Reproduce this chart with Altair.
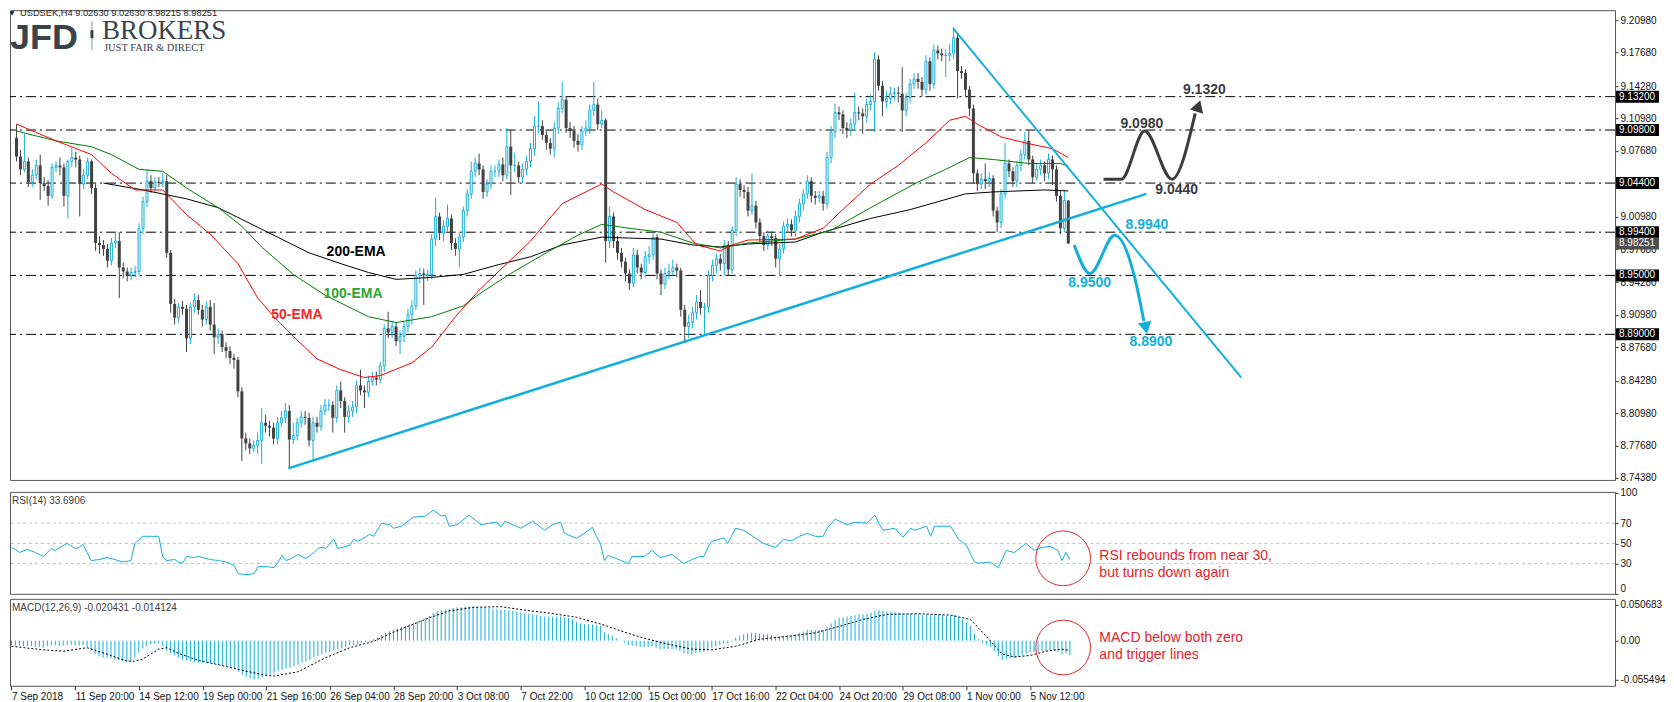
import altair as alt
import pandas as pd

# ---------------------------------------------------------------- data
first_open = 9.090
closes = [
    9.071, 9.058, 9.066, 9.045, 9.052, 9.062, 9.044, 9.041, 9.031, 9.060,
    9.062, 9.060, 9.031, 9.066, 9.070, 9.068, 9.043, 9.052, 9.066, 9.039,
    8.983, 8.981, 8.977, 8.965, 8.983, 8.985, 8.958, 8.954, 8.950, 8.953,
    8.954, 8.998, 9.025, 9.046, 9.039, 9.045, 9.044, 9.046, 8.973, 8.921,
    8.907, 8.918, 8.916, 8.886, 8.918, 8.925, 8.915, 8.905, 8.918, 8.900,
    8.887, 8.890, 8.877, 8.873, 8.866, 8.864, 8.832, 8.784, 8.779, 8.774,
    8.777, 8.782, 8.800, 8.797, 8.795, 8.784, 8.800, 8.805, 8.812, 8.783,
    8.787, 8.800, 8.806, 8.805, 8.782, 8.800, 8.796, 8.812, 8.818, 8.818,
    8.805, 8.833, 8.822, 8.806, 8.812, 8.816, 8.838, 8.833, 8.831, 8.842,
    8.846, 8.844, 8.858, 8.896, 8.892, 8.898, 8.883, 8.888, 8.898, 8.910,
    8.919, 8.950, 8.952, 8.950, 8.951, 8.987, 9.010, 8.993, 9.000, 9.008,
    8.983, 8.977, 8.989, 9.016, 9.033, 9.056, 9.064, 9.058, 9.035, 9.043,
    9.056, 9.056, 9.063, 9.052, 9.081, 9.062, 9.062, 9.050, 9.058, 9.066,
    9.079, 9.102, 9.102, 9.093, 9.085, 9.079, 9.100, 9.120, 9.129, 9.100,
    9.097, 9.087, 9.083, 9.097, 9.100, 9.118, 9.124, 9.104, 9.108, 8.985,
    9.010, 8.985, 8.973, 8.964, 8.952, 8.942, 8.971, 8.958, 8.953, 8.969,
    8.971, 8.989, 8.952, 8.941, 8.952, 8.954, 8.958, 8.955, 8.915, 8.898,
    8.902, 8.912, 8.923, 8.917, 8.918, 8.950, 8.960, 8.967, 8.962, 8.981,
    8.956, 8.996, 9.043, 9.037, 9.035, 9.016, 9.021, 9.004, 8.990, 8.981,
    8.990, 8.988, 8.967, 8.977, 9.000, 9.002, 8.996, 9.010, 9.023, 9.033,
    9.046, 9.031, 9.029, 9.031, 9.023, 9.070, 9.096, 9.116, 9.114, 9.100,
    9.098, 9.104, 9.116, 9.115, 9.112, 9.124, 9.127, 9.170, 9.143, 9.127,
    9.130, 9.135, 9.136, 9.135, 9.118, 9.131, 9.145, 9.150, 9.147, 9.139,
    9.168, 9.145, 9.179, 9.176, 9.174, 9.174, 9.176, 9.192, 9.158, 9.156,
    9.139, 9.120, 9.054, 9.043, 9.048, 9.046, 9.049, 9.016, 9.004, 9.033,
    9.064, 9.056, 9.046, 9.062, 9.073, 9.087, 9.068, 9.050, 9.058, 9.062,
    9.054, 9.068, 9.058, 9.031, 8.998, 9.0263, 8.98251,
]
highs = [
    9.104, 9.078, 9.094, 9.070, 9.058, 9.068, 9.073, 9.050, 9.047, 9.064,
    9.066, 9.070, 9.064, 9.068, 9.080, 9.076, 9.072, 9.058, 9.070, 9.068,
    9.044, 8.990, 8.986, 8.982, 8.988, 8.994, 8.994, 8.963, 8.958, 8.958,
    8.960, 9.003, 9.030, 9.058, 9.052, 9.050, 9.050, 9.054, 9.052, 8.976,
    8.926, 8.922, 8.924, 8.920, 8.922, 8.932, 8.930, 8.920, 8.924, 8.925,
    8.922, 8.896, 8.894, 8.882, 8.878, 8.870, 8.867, 8.836, 8.790, 8.784,
    8.782, 8.790, 8.815, 8.808, 8.802, 8.800, 8.806, 8.812, 8.820, 8.818,
    8.800, 8.805, 8.812, 8.812, 8.810, 8.806, 8.806, 8.818, 8.824, 8.824,
    8.822, 8.838, 8.842, 8.826, 8.818, 8.822, 8.843, 8.854, 8.838, 8.848,
    8.852, 8.852, 8.862, 8.900, 8.913, 8.904, 8.902, 8.894, 8.903, 8.916,
    8.925, 8.955, 8.958, 8.957, 8.956, 8.992, 9.029, 9.014, 9.006, 9.022,
    9.012, 8.988, 8.994, 9.020, 9.038, 9.066, 9.070, 9.074, 9.062, 9.048,
    9.062, 9.062, 9.068, 9.070, 9.100, 9.098, 9.075, 9.066, 9.064, 9.072,
    9.085, 9.112, 9.127, 9.108, 9.098, 9.090, 9.106, 9.126, 9.147, 9.132,
    9.106, 9.102, 9.094, 9.102, 9.108, 9.124, 9.147, 9.130, 9.118, 9.110,
    9.020, 9.014, 8.990, 8.978, 8.968, 8.956, 8.978, 8.976, 8.962, 8.975,
    8.980, 8.994, 8.992, 8.956, 8.958, 8.962, 8.966, 8.962, 8.958, 8.920,
    8.910, 8.918, 8.930, 8.935, 8.922, 8.955, 8.966, 8.972, 8.972, 8.986,
    8.985, 9.000, 9.050, 9.048, 9.042, 9.040, 9.054, 9.026, 9.008, 8.994,
    8.996, 8.995, 8.992, 8.982, 9.005, 9.008, 9.007, 9.016, 9.028, 9.038,
    9.052, 9.050, 9.036, 9.036, 9.036, 9.076, 9.102, 9.125, 9.122, 9.118,
    9.106, 9.110, 9.136, 9.122, 9.120, 9.130, 9.134, 9.177, 9.174, 9.148,
    9.138, 9.142, 9.141, 9.142, 9.162, 9.136, 9.150, 9.156, 9.156, 9.152,
    9.174, 9.172, 9.185, 9.184, 9.181, 9.180, 9.186, 9.203, 9.196, 9.163,
    9.160, 9.143, 9.124, 9.058, 9.054, 9.064, 9.055, 9.052, 9.020, 9.038,
    9.085, 9.068, 9.060, 9.066, 9.078, 9.096, 9.098, 9.072, 9.064, 9.068,
    9.066, 9.074, 9.072, 9.062, 9.036, 9.037, 9.0263,
]
lows = [
    9.066, 9.052, 9.055, 9.040, 9.040, 9.048, 9.027, 9.036, 9.021, 9.028,
    9.055, 9.052, 9.020, 9.008, 9.060, 9.060, 9.010, 9.038, 9.048, 9.033,
    8.975, 8.972, 8.970, 8.958, 8.960, 8.978, 8.927, 8.947, 8.944, 8.945,
    8.948, 8.950, 8.992, 9.020, 9.034, 9.035, 9.040, 9.040, 8.968, 8.912,
    8.900, 8.902, 8.910, 8.872, 8.880, 8.912, 8.910, 8.898, 8.900, 8.894,
    8.870, 8.880, 8.872, 8.866, 8.860, 8.855, 8.826, 8.761, 8.772, 8.768,
    8.770, 8.768, 8.758, 8.790, 8.786, 8.778, 8.778, 8.796, 8.800, 8.754,
    8.778, 8.782, 8.795, 8.798, 8.776, 8.761, 8.790, 8.792, 8.808, 8.812,
    8.790, 8.800, 8.815, 8.790, 8.800, 8.806, 8.810, 8.828, 8.815, 8.826,
    8.838, 8.838, 8.840, 8.852, 8.886, 8.886, 8.878, 8.870, 8.882, 8.892,
    8.900, 8.915, 8.942, 8.920, 8.944, 8.946, 8.980, 8.986, 8.985, 8.995,
    8.976, 8.970, 8.958, 8.984, 9.010, 9.028, 9.050, 9.052, 9.028, 9.030,
    9.038, 9.050, 9.050, 9.046, 9.048, 9.032, 9.055, 9.044, 9.044, 9.052,
    9.060, 9.072, 9.095, 9.088, 9.078, 9.073, 9.070, 9.094, 9.115, 9.095,
    9.090, 9.080, 9.076, 9.078, 9.092, 9.094, 9.112, 9.098, 9.100, 8.963,
    8.978, 8.978, 8.966, 8.958, 8.944, 8.935, 8.938, 8.952, 8.946, 8.948,
    8.962, 8.966, 8.946, 8.930, 8.936, 8.946, 8.950, 8.948, 8.908, 8.881,
    8.886, 8.896, 8.905, 8.910, 8.889, 8.912, 8.944, 8.952, 8.955, 8.950,
    8.950, 8.952, 8.990, 9.030, 9.028, 9.010, 9.012, 8.998, 8.984, 8.975,
    8.976, 8.980, 8.958, 8.950, 8.972, 8.994, 8.990, 8.990, 9.004, 9.016,
    9.028, 9.024, 9.022, 9.024, 9.016, 9.018, 9.064, 9.090, 9.108, 9.094,
    9.090, 9.092, 9.098, 9.108, 9.094, 9.106, 9.118, 9.096, 9.138, 9.112,
    9.120, 9.124, 9.128, 9.126, 9.096, 9.112, 9.126, 9.140, 9.140, 9.132,
    9.134, 9.138, 9.140, 9.170, 9.168, 9.152, 9.168, 9.170, 9.130, 9.150,
    9.132, 9.112, 9.043, 9.036, 9.038, 9.038, 9.040, 9.010, 8.994, 8.998,
    9.028, 9.050, 9.040, 9.040, 9.056, 9.068, 9.062, 9.044, 9.046, 9.052,
    9.046, 9.048, 9.042, 9.025, 8.992, 8.994, 8.98215,
]

ema50_bar = [0, 10, 19, 24, 30, 37, 43, 49, 56, 61, 66, 70, 76, 82, 88, 92, 100, 105, 111, 117,
             124, 130, 138, 146, 148, 151, 159, 167, 172, 178, 181, 185, 197, 204, 210, 216, 223,
             230, 236, 240, 243, 249, 255, 262, 266]
ema50_val = [9.104, 9.087, 9.073, 9.054, 9.037, 9.037, 9.012, 8.992, 8.962, 8.927, 8.904, 8.888,
             8.865, 8.854, 8.846, 8.848, 8.861, 8.877, 8.908, 8.935, 8.962, 8.985, 9.023, 9.039,
             9.043, 9.035, 9.017, 9.004, 8.981, 8.975, 8.981, 8.986, 8.987, 8.998, 9.021, 9.043,
             9.062, 9.085, 9.108, 9.112, 9.104, 9.091, 9.085, 9.079, 9.070]
ema100_bar = [0, 10, 19, 24, 31, 37, 43, 51, 57, 62, 70, 78, 89, 96, 105, 113, 117, 125, 134, 142,
              148, 155, 163, 171, 178, 185, 197, 206, 216, 228, 235, 241, 247, 256, 264, 266]
ema100_val = [9.097, 9.087, 9.081, 9.073, 9.058, 9.056, 9.039, 9.019, 9.000, 8.979, 8.951, 8.930,
              8.908, 8.902, 8.908, 8.919, 8.931, 8.952, 8.973, 8.991, 9.002, 8.998, 8.994, 8.983,
              8.978, 8.983, 8.987, 8.996, 9.019, 9.045, 9.058, 9.070, 9.068, 9.064, 9.064, 9.061]
ema200_bar = [22, 32, 43, 51, 57, 66, 74, 82, 89, 96, 105, 113, 121, 130, 138, 148, 155, 163, 171,
              178, 185, 197, 204, 216, 226, 240, 247, 260, 266]
ema200_val = [9.044, 9.037, 9.028, 9.019, 9.007, 8.989, 8.973, 8.962, 8.953, 8.946, 8.948, 8.951,
              8.960, 8.969, 8.981, 8.989, 8.988, 8.987, 8.981, 8.979, 8.982, 8.984, 8.994, 9.008,
              9.017, 9.033, 9.035, 9.037, 9.036]

rsi_bar = [0, 1, 2, 4, 6, 8, 9, 10, 11, 13, 14, 16, 17, 18, 19, 20, 22, 24, 26, 28, 30, 31, 33, 35,
           37, 38, 39, 41, 42, 43, 44, 46, 47, 50, 52, 54, 56, 57, 59, 61, 62, 64, 66, 67, 68, 69,
           70, 72, 73, 74, 76, 77, 78, 79, 81, 82, 84, 85, 86, 87, 88, 90, 91, 93, 95, 96, 98, 101,
           104, 106, 108, 109, 110, 112, 115, 118, 120, 122, 123, 124, 128, 131, 134, 136, 138, 139,
           142, 144, 146, 147, 148, 149, 150, 152, 155, 156, 159, 161, 163, 166, 168, 169, 171, 173,
           174, 175, 176, 177, 179, 180, 182, 184, 189, 192, 194, 196, 198, 200, 202, 204, 205, 207,
           210, 212, 215, 217, 218, 219, 222, 224, 226, 227, 230, 231, 232, 236, 238, 240, 242, 243,
           246, 248, 250, 252, 255, 257, 259, 261, 263, 264, 265, 266]
rsi_val = [46, 44, 41, 44, 41, 37, 41, 45, 43, 48, 50, 45, 46, 49, 41, 33, 34, 36, 34, 31.5, 33, 50,
           57, 57, 57, 37, 33, 34, 31.5, 30.4, 37, 36, 37, 34, 33, 31.5, 28, 20, 19, 20, 27, 27, 26,
           31.5, 38, 33, 34.4, 39, 37, 35, 41, 45, 46, 45, 54, 45, 47, 48, 54, 52, 54, 59, 57, 70,
           68.5, 65, 67, 76, 77, 83, 77, 78, 67, 68.5, 78, 68.5, 70, 71, 66, 72, 65, 72, 63, 68.5,
           71, 60, 55, 60, 66, 57, 50, 33, 38, 35, 30, 37, 37, 43, 36, 39, 33, 30, 34, 37, 37, 46,
           52, 53, 55.6, 50, 65, 63, 50, 46, 54, 52.6, 57, 60, 57, 57, 65, 74, 68.5, 71, 70, 78, 70,
           63, 65, 56, 65, 63, 67, 57, 67, 67, 54, 48, 31.5, 30.4, 31.5, 26, 43, 41, 50, 43, 46, 47,
           43, 33, 41, 33.69]

macd_hist = [
    -0.006, -0.007, -0.007, -0.008, -0.008, -0.008, -0.009, -0.009, -0.010, -0.008,
    -0.007, -0.007, -0.008, -0.007, -0.006, -0.006, -0.007, -0.007, -0.006, -0.009,
    -0.014, -0.019, -0.022, -0.024, -0.024, -0.025, -0.027, -0.028, -0.029, -0.030,
    -0.030, -0.024, -0.017, -0.011, -0.008, -0.005, -0.004, -0.004, -0.008, -0.014,
    -0.018, -0.021, -0.024, -0.027, -0.028, -0.029, -0.030, -0.031, -0.031, -0.032,
    -0.032, -0.033, -0.034, -0.035, -0.036, -0.037, -0.039, -0.044, -0.048, -0.051,
    -0.053, -0.055, -0.054, -0.052, -0.050, -0.048, -0.046, -0.043, -0.041, -0.040,
    -0.038, -0.036, -0.034, -0.031, -0.029, -0.027, -0.024, -0.022, -0.019, -0.017,
    -0.016, -0.014, -0.012, -0.011, -0.009, -0.007, -0.006, -0.005, -0.003, -0.002,
    -0.001, 0.002, 0.004, 0.008, 0.011, 0.013, 0.015, 0.017, 0.019, 0.021,
    0.023, 0.025, 0.027, 0.029, 0.032, 0.035, 0.039, 0.041, 0.043, 0.044,
    0.045, 0.046, 0.047, 0.047, 0.048, 0.048, 0.048, 0.048, 0.047, 0.047,
    0.046, 0.045, 0.045, 0.044, 0.044, 0.043, 0.042, 0.041, 0.040, 0.039,
    0.038, 0.037, 0.036, 0.035, 0.034, 0.034, 0.034, 0.034, 0.034, 0.033,
    0.032, 0.030, 0.026, 0.024, 0.023, 0.023, 0.023, 0.022, 0.021, 0.012,
    0.009, 0.006, 0.003, 0.000, -0.003, -0.006, -0.007, -0.008, -0.009, -0.009,
    -0.009, -0.008, -0.010, -0.012, -0.012, -0.012, -0.012, -0.012, -0.015, -0.018,
    -0.019, -0.019, -0.018, -0.017, -0.016, -0.013, -0.010, -0.008, -0.006, -0.004,
    -0.004, -0.001, 0.004, 0.007, 0.009, 0.010, 0.011, 0.011, 0.010, 0.009,
    0.009, 0.008, 0.006, 0.006, 0.007, 0.008, 0.008, 0.009, 0.011, 0.013,
    0.015, 0.015, 0.015, 0.015, 0.015, 0.019, 0.024, 0.029, 0.032, 0.033,
    0.034, 0.035, 0.036, 0.037, 0.037, 0.038, 0.039, 0.042, 0.043, 0.042,
    0.041, 0.041, 0.040, 0.040, 0.038, 0.038, 0.038, 0.038, 0.037, 0.036,
    0.037, 0.036, 0.037, 0.037, 0.036, 0.035, 0.035, 0.036, 0.033, 0.030,
    0.026, 0.021, 0.010, 0.002, -0.003, -0.006, -0.009, -0.015, -0.022, -0.027,
    -0.026, -0.025, -0.025, -0.023, -0.021, -0.018, -0.016, -0.016, -0.016, -0.015,
    -0.015, -0.014, -0.014, -0.016, -0.019, -0.018, -0.0204,
]
signal_bar = [0, 8, 13, 19, 24, 29, 31, 33, 37, 39, 42, 47, 52, 58, 64, 66, 72, 79, 85, 91, 96,
              104, 110, 116, 123, 129, 135, 142, 149, 153, 158, 165, 171, 176, 182, 188, 195, 202,
              208, 214, 220, 228, 236, 241, 244, 249, 252, 256, 260, 264, 266]
signal_val = [-0.008, -0.013, -0.015, -0.010, -0.019, -0.029, -0.029, -0.026, -0.012, -0.010,
              -0.018, -0.028, -0.034, -0.042, -0.049, -0.050, -0.044, -0.024, -0.010, -0.001,
              0.012, 0.030, 0.042, 0.047, 0.048, 0.043, 0.039, 0.033, 0.022, 0.014, 0.005, -0.005,
              -0.012, -0.013, -0.008, 0.002, 0.006, 0.011, 0.020, 0.030, 0.037, 0.038, 0.036,
              0.030, 0.012, -0.019, -0.023, -0.021, -0.015, -0.012, -0.0141]

price_ticks = [9.2098, 9.1768, 9.1428, 9.1098, 9.0768, 9.0098, 8.9768, 8.9428, 8.9098,
               8.8768, 8.8428, 8.8098, 8.7768, 8.7438]
level_prices = [9.132, 9.098, 9.044, 8.994, 8.950, 8.890]
level_labels = ["9.13200", "9.09800", "9.04400", "8.99400", "8.95000", "8.89000"]
current_price = 8.98251
current_label = "8.98251"

x_tick_bars = [0, 16, 32, 48, 64, 80, 96, 112, 128, 144, 160, 176, 192, 208, 224, 240, 256]
x_tick_labels = ["7 Sep 2018", "11 Sep 20:00", "14 Sep 12:00", "19 Sep 00:00", "21 Sep 16:00",
                 "26 Sep 04:00", "28 Sep 20:00", "3 Oct 08:00", "7 Oct 22:00", "10 Oct 12:00",
                 "15 Oct 00:00", "17 Oct 16:00", "22 Oct 04:00", "24 Oct 20:00", "29 Oct 08:00",
                 "1 Nov 00:00", "5 Nov 12:00"]
rsi_ticks = [0, 30, 50, 70, 100]
rsi_levels = [30, 50, 70]
macd_ticks = [0.050683, 0.0, -0.055494]
macd_tick_labels = ["0.050683", "0.00", "-0.055494"]

up_trend_bar = [68.75, 285.75]
up_trend_price = [8.7536, 9.033]
down_trend_bar = [236.9, 309.75]
down_trend_price = [9.2014, 8.846]

bull_path_bar = [274.9, 279.4, 285.3, 292.2, 298.1]
bull_path_price = [9.048, 9.048, 9.097, 9.048, 9.115]
bull_arrow_bar = [298.9]
bull_arrow_price = [9.1225]
bear_path_bar = [267.5, 271.5, 277.75, 282.6, 285.1]
bear_path_price = [8.981, 8.952, 8.991, 8.951, 8.9036]
bear_arrow_bar = [285.6]
bear_arrow_price = [8.8965]

bull_labels = ["9.1320", "9.0980", "9.0440"]
bull_label_bar = [300.4, 284.6, 293.4]
bull_label_price = [9.139, 9.1045, 9.0372]
bear_labels = ["8.9940", "8.9500", "8.8900"]
bear_label_bar = [285.9, 271.4, 286.9]
bear_label_price = [9.001, 8.942, 8.882]

ema_label_text = ["200-EMA", "100-EMA", "50-EMA"]
ema_label_bar = [85.9, 85.1, 70.9]
ema_label_price = [8.974, 8.931, 8.9096]

rsi_note_lines = ["RSI rebounds from near 30,", "but turns down again"]
rsi_note_bar = [273.4, 273.4]
rsi_note_val = [37.8, 20.2]
macd_note_lines = ["MACD below both zero", "and trigger lines"]
macd_note_bar = [273.4, 273.4]
macd_note_val = [0.0044, -0.0209]
rsi_circle_bar = [264.3]
rsi_circle_val = [35.2]
macd_circle_bar = [264.3]
macd_circle_val = [-0.0097]

# ---------------------------------------------------------------- style
BLUE = "#13afdb"
DARK = "#424242"
RED = "#e5242b"
FONT = "Liberation Sans"
W = 1606
H1, H2, H3 = 470, 102, 87

n = min(len(closes), len(highs), len(lows))
opens = [first_open] + closes[:n - 1]
cdf = pd.DataFrame({"i": list(range(n)), "o": opens, "c": closes[:n], "h": highs[:n], "l": lows[:n]})

xs = alt.Scale(domain=[-0.375, 403.0], nice=False, zero=False)
ps = alt.Scale(domain=[8.7418, 9.2200], nice=False, zero=False)
rs = alt.Scale(domain=[0, 101], nice=False, zero=False)
ms = alt.Scale(domain=[-0.0638, 0.0590], nice=False, zero=False)

common_axis = dict(orient="right", tickSize=3, tickColor="#333333", labelFont=FONT, labelFontSize=10,
                   labelColor="#111111", labelPadding=2, labelOverlap=False, domain=False,
                   grid=False, title=None)
price_axis = alt.Axis(values=price_ticks, format=".5f", labelFlush=False, **common_axis)
rsi_axis = alt.Axis(values=rsi_ticks, format="d", labelFlush=True, **common_axis)
macd_expr = "[" + ",".join("'" + s + "'" for s in macd_tick_labels) + "][indexof([" + \
    ",".join(str(v) for v in macd_ticks) + "], datum.value)]"
macd_axis = alt.Axis(values=macd_ticks, labelExpr=macd_expr, labelFlush=False, **common_axis)
x_expr = "[" + ",".join("'" + s + "'" for s in x_tick_labels) + "][indexof([" + \
    ",".join(str(v) for v in x_tick_bars) + "], datum.value)]"
x_axis = alt.Axis(values=x_tick_bars, labelExpr=x_expr, orient="bottom", tickSize=4,
                  tickColor="#333333", labelFont=FONT, labelFontSize=10, labelColor="#111111",
                  labelAlign="left", labelPadding=2, labelOverlap=False, labelFlush=False,
                  domain=False, grid=False, title=None)


def X(f, axis=None):
    return alt.X(f, type="quantitative", scale=xs, axis=axis, title=None)


def PY(f):
    return alt.Y(f, type="quantitative", scale=ps, axis=price_axis, title=None)


def RY(f):
    return alt.Y(f, type="quantitative", scale=rs, axis=rsi_axis, title=None)


def MY(f):
    return alt.Y(f, type="quantitative", scale=ms, axis=macd_axis, title=None)


def pix_text(txt, x, y, **kw):
    return alt.Chart(pd.DataFrame({"t": [txt]})).mark_text(**kw).encode(
        x=alt.value(x), y=alt.value(y), text="t:N")


# ---------------------------------------------------------------- main panel
levels = alt.Chart(pd.DataFrame({"p": level_prices})).mark_rule(
    color="black", strokeWidth=1, strokeDash=[10, 4, 2, 4]).encode(y=PY("p"))

wicks = alt.Chart(cdf).mark_rule(strokeWidth=1).encode(
    x=X("i"), y=PY("l"), y2=alt.Y2("h"),
    color=alt.condition("datum.c >= datum.o", alt.value(BLUE), alt.value(DARK)))
bear = alt.Chart(cdf).transform_filter("datum.c < datum.o").mark_bar(size=3, color=DARK).encode(
    x=X("i"), y=PY("o"), y2=alt.Y2("c"))
bull = alt.Chart(cdf).transform_filter("datum.c >= datum.o").mark_bar(
    size=2, fill="white", stroke=BLUE, strokeWidth=1).encode(x=X("i"), y=PY("o"), y2=alt.Y2("c"))


def line_layer(bars, vals, yenc, **kw):
    d = pd.DataFrame({"b": bars, "v": vals})
    return alt.Chart(d).mark_line(**kw).encode(x=X("b"), y=yenc("v"), order="b:Q")


ema200 = line_layer(ema200_bar, ema200_val, PY, color="#000000", strokeWidth=1)
ema100 = line_layer(ema100_bar, ema100_val, PY, color="#008000", strokeWidth=1)
ema50 = line_layer(ema50_bar, ema50_val, PY, color="#ff0000", strokeWidth=1)

up_tl = line_layer(up_trend_bar, up_trend_price, PY, color=BLUE, strokeWidth=2.5)
down_tl = line_layer(down_trend_bar, down_trend_price, PY, color=BLUE, strokeWidth=2)

bull_path = line_layer(bull_path_bar, bull_path_price, PY, color="#3c3c3c", strokeWidth=3,
                       interpolate="monotone")
bear_path = line_layer(bear_path_bar, bear_path_price, PY, color=BLUE, strokeWidth=3,
                       interpolate="monotone")
bull_arrow = alt.Chart(pd.DataFrame({"b": bull_arrow_bar, "v": bull_arrow_price})).mark_point(
    shape="triangle-up", filled=True, size=190, angle=18, color="#3c3c3c", opacity=1).encode(
    x=X("b"), y=PY("v"))
bear_arrow = alt.Chart(pd.DataFrame({"b": bear_arrow_bar, "v": bear_arrow_price})).mark_point(
    shape="triangle-down", filled=True, size=190, angle=348, color=BLUE, opacity=1).encode(
    x=X("b"), y=PY("v"))


def label_layer(texts, bars, vals, yenc, **kw):
    d = pd.DataFrame({"t": texts, "b": bars, "v": vals})
    return alt.Chart(d).mark_text(**kw).encode(x=X("b"), y=yenc("v"), text="t:N")


bull_txt = label_layer(bull_labels, bull_label_bar, bull_label_price, PY, color="#3c3c3c",
                       font=FONT, fontSize=14, fontWeight="bold")
bear_txt = label_layer(bear_labels, bear_label_bar, bear_label_price, PY, color=BLUE,
                       font=FONT, fontSize=14, fontWeight="bold")
ema_colors = ["#000000", "#2ea52e", "#ee2a2a"]
ema_txt = [label_layer([t], [b], [v], PY, color=c, font=FONT, fontSize=14, fontWeight="bold")
           for t, b, v, c in zip(ema_label_text, ema_label_bar, ema_label_price, ema_colors)]

box_df = pd.DataFrame({"p": level_prices + [current_price], "t": level_labels + [current_label],
                       "k": ["lvl"] * len(level_prices) + ["cur"]})
boxes = alt.Chart(box_df).mark_rule(strokeWidth=12, strokeCap="butt").encode(
    x=alt.value(W + 1), x2=alt.value(W + 44), y=PY("p"),
    color=alt.condition("datum.k == 'cur'", alt.value("#4f4f4f"), alt.value("#000000")))
box_txt = alt.Chart(box_df).mark_text(align="left", baseline="middle", color="white", font=FONT,
                                      fontSize=10).encode(x=alt.value(W + 4), y=PY("p"), text="t:N")

header = [
    pix_text("\u25bc", 2, 3, font="DejaVu Sans", fontSize=6, color="#222222", baseline="middle"),
    pix_text("USDSEK,H4  9.02630 9.02630 8.98215 8.98251", 10, 3, font=FONT, fontSize=9.3,
             color="#1e1e1e", align="left", baseline="middle"),
    pix_text("JFD", 0, 39, font=FONT, fontSize=36, fontWeight="bold", color="#3a424c",
             align="left", baseline="alphabetic"),
    pix_text("BROKERS", 92, 29, font="Liberation Serif", fontSize=27, color="#3a424c",
             align="left", baseline="alphabetic"),
    pix_text("JUST FAIR & DIRECT", 94, 41, font="Liberation Serif", fontSize=10.5,
             color="#3a424c", align="left", baseline="alphabetic"),
    alt.Chart(pd.DataFrame({"t": ["div"]})).mark_rule(color="#8a8f96", strokeWidth=1).encode(
        x=alt.value(82), y=alt.value(11), y2=alt.value(40)),
    alt.Chart(pd.DataFrame({"t": ["div"]})).mark_rule(color="#3a424c", strokeWidth=3).encode(
        x=alt.value(82), y=alt.value(20), y2=alt.value(28)),
]

main = alt.layer(levels, wicks, bear, bull, ema200, ema100, ema50, up_tl, down_tl,
                 bull_path, bear_path, bull_arrow, bear_arrow, bull_txt, bear_txt, *ema_txt,
                 boxes, box_txt, *header).properties(width=W, height=H1)

# ---------------------------------------------------------------- RSI panel
rsi_lv = alt.Chart(pd.DataFrame({"v": rsi_levels})).mark_rule(
    color="#c0c0c0", strokeWidth=1, strokeDash=[3, 3]).encode(y=RY("v"))
rsi_line = line_layer(rsi_bar, rsi_val, RY, color=BLUE, strokeWidth=1)
rsi_title = pix_text("RSI(14) 33.6906", 2, 9, font=FONT, fontSize=10, color="#404040",
                     align="left", baseline="middle")
rsi_note = label_layer(rsi_note_lines, rsi_note_bar, rsi_note_val, RY, color=RED, font=FONT,
                       fontSize=14, align="left", baseline="middle")
rsi_circ = alt.Chart(pd.DataFrame({"b": rsi_circle_bar, "v": rsi_circle_val})).mark_point(
    shape="circle", filled=False, size=3000, color=RED, strokeWidth=1, opacity=1).encode(
    x=X("b"), y=RY("v"))
rsi = alt.layer(rsi_lv, rsi_line, rsi_title, rsi_note, rsi_circ).properties(width=W, height=H2)

# ---------------------------------------------------------------- MACD panel
mdf = pd.DataFrame({"i": list(range(len(macd_hist))), "v": macd_hist, "z": [0.0] * len(macd_hist)})
hist = alt.Chart(mdf).mark_rule(color=BLUE, strokeWidth=1).encode(
    x=X("i", x_axis), y=MY("z"), y2=alt.Y2("v"))
sig = alt.Chart(pd.DataFrame({"b": signal_bar, "v": signal_val})).mark_line(
    color="#000000", strokeWidth=1, strokeDash=[2, 2]).encode(x=X("b", x_axis), y=MY("v"))
macd_title = pix_text("MACD(12,26,9) -0.020431 -0.014124", 2, 9, font=FONT, fontSize=10,
                      color="#404040", align="left", baseline="middle")
macd_note = alt.Chart(pd.DataFrame({"t": macd_note_lines, "b": macd_note_bar, "v": macd_note_val})
                      ).mark_text(color=RED, font=FONT, fontSize=14, align="left",
                                  baseline="middle").encode(x=X("b", x_axis), y=MY("v"), text="t:N")
macd_circ = alt.Chart(pd.DataFrame({"b": macd_circle_bar, "v": macd_circle_val})).mark_point(
    shape="circle", filled=False, size=3000, color=RED, strokeWidth=1, opacity=1).encode(
    x=X("b", x_axis), y=MY("v"))
macd = alt.layer(hist, sig, macd_title, macd_note, macd_circ).properties(width=W, height=H3)

chart = alt.vconcat(main, rsi, macd, spacing=3).properties(padding=0).configure(
    font=FONT, background="white").configure_view(stroke="#555555", strokeWidth=1)

chart.save("out.html", embed_options={"renderer": "svg", "actions": False})
